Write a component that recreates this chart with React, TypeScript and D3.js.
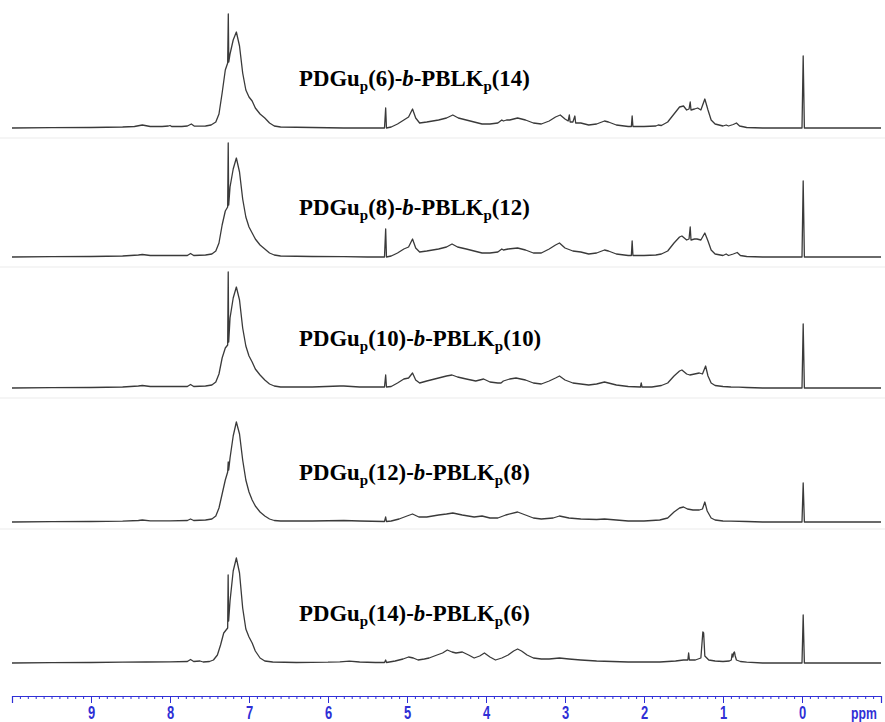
import { useEffect, useRef } from "react";
import * as d3 from "d3";

// chemical shift range shown on the axis (ppm, high field on the right)
const ppmRange = [10, -1];
const majorTicks = d3.range(9, -1, -1);
const minorTicks = d3.range(-10, 101).map((i) => i / 10);

// degree of polymerisation of each block, top trace first
const dguDP = [6, 8, 10, 12, 14];
const blkDP = [14, 12, 10, 8, 6];

// [ppm, intensity]
const spec6_14 = [
  [10, 0], [9.5, 0.3], [9, 0.5], [8.6, 1], [8.45, 1.5], [8.35, 3], [8.25, 1.5], [8.1, 1.5], [8.02, 2], [8.0, 2.5], [7.98, 1.5],
  [7.85, 1.5], [7.78, 2], [7.73, 4], [7.69, 1.8], [7.55, 2], [7.48, 3], [7.42, 6], [7.38, 14], [7.34, 35], [7.3, 58], [7.27, 65],
  [7.262, 114], [7.256, 66], [7.24, 74], [7.2, 88], [7.16, 96], [7.12, 82], [7.08, 55], [7.04, 38], [7.0, 31], [6.96, 27],
  [6.92, 20], [6.86, 14], [6.8, 10], [6.74, 5], [6.68, 2], [6.6, 1], [6.2, 0.5], [5.8, 0], [5.5, 0], [5.285, 0], [5.27, 20],
  [5.26, 0], [5.2, 1], [5.12, 4], [5.04, 8], [4.98, 11], [4.93, 19], [4.89, 10], [4.84, 5], [4.75, 6], [4.6, 8], [4.5, 10],
  [4.42, 13], [4.35, 10], [4.25, 8], [4.15, 6], [4.05, 4], [3.95, 4], [3.85, 5], [3.8, 8], [3.78, 7], [3.74, 8], [3.7, 8],
  [3.6, 10], [3.5, 8], [3.4, 5], [3.3, 4], [3.2, 7], [3.12, 11], [3.06, 13], [3.0, 9], [2.96, 7], [2.945, 13], [2.935, 6],
  [2.9, 6], [2.875, 12], [2.865, 5], [2.8, 5], [2.7, 3], [2.6, 4], [2.5, 7], [2.45, 6], [2.35, 3], [2.2, 1.5], [2.16, 1.5],
  [2.15, 12], [2.14, 1.5], [2.0, 1.5], [1.85, 2], [1.82, 3], [1.78, 2.5], [1.7, 6], [1.62, 14], [1.55, 21], [1.5, 22],
  [1.46, 18], [1.43, 19], [1.415, 26], [1.405, 18], [1.36, 19], [1.32, 20], [1.28, 18], [1.23, 29], [1.19, 18], [1.15, 8],
  [1.1, 4], [1.0, 2], [0.96, 3], [0.93, 2], [0.87, 3.5], [0.83, 5], [0.79, 2], [0.7, 0.5], [0.5, 0], [0.0, 0], [-0.015, 72],
  [-0.03, 0], [-1, 0],
];

const spec8_12 = [
  [10, 0], [9.5, 0.3], [9, 0.5], [8.6, 1], [8.4, 2], [8.35, 2.5], [8.25, 1.5], [8.0, 1.5], [7.78, 1.5], [7.74, 3.5], [7.7, 1.5],
  [7.55, 2], [7.47, 3], [7.42, 6], [7.38, 14], [7.34, 32], [7.3, 46], [7.27, 50], [7.263, 114], [7.257, 52], [7.24, 70],
  [7.2, 88], [7.16, 99], [7.12, 85], [7.08, 58], [7.04, 40], [7.0, 30], [6.96, 24], [6.92, 18], [6.86, 12], [6.8, 8], [6.74, 4],
  [6.68, 2], [6.6, 1], [6.2, 0.5], [5.8, 0.3], [5.5, 0], [5.285, 0], [5.27, 28], [5.26, 0], [5.2, 1], [5.12, 4], [5.04, 8],
  [4.98, 10], [4.93, 18], [4.89, 9], [4.84, 5], [4.75, 6], [4.6, 8], [4.5, 10], [4.43, 13], [4.36, 10], [4.25, 8], [4.15, 6],
  [4.05, 4], [3.95, 4], [3.85, 5], [3.8, 8], [3.78, 7], [3.72, 8], [3.6, 9], [3.5, 7], [3.4, 4], [3.3, 4], [3.2, 8], [3.12, 12],
  [3.07, 14], [3.0, 9], [2.9, 6], [2.8, 5], [2.7, 3], [2.6, 4], [2.5, 7], [2.45, 6], [2.35, 3], [2.2, 1.5], [2.16, 1.5],
  [2.15, 16], [2.14, 1.5], [2.0, 1.5], [1.85, 2], [1.78, 3], [1.7, 6], [1.62, 14], [1.55, 20], [1.52, 21], [1.46, 17],
  [1.43, 18], [1.415, 30], [1.405, 17], [1.36, 18], [1.33, 18], [1.28, 17], [1.23, 24], [1.19, 16], [1.15, 7], [1.1, 3],
  [1.0, 1.5], [0.96, 3], [0.93, 1.5], [0.87, 3], [0.82, 4.5], [0.78, 1.5], [0.7, 0.5], [0.5, 0], [0.0, 0], [-0.015, 76],
  [-0.03, 0], [-1, 0],
];

const spec10_10 = [
  [10, 0], [9.5, 0.3], [9, 0.5], [8.6, 1], [8.4, 2], [8.35, 2.5], [8.25, 1.5], [8.0, 1.5], [7.78, 1.5], [7.74, 3.5], [7.7, 1.5],
  [7.55, 2], [7.47, 3], [7.42, 6], [7.38, 14], [7.34, 30], [7.3, 40], [7.27, 43], [7.263, 116], [7.257, 46], [7.24, 70],
  [7.2, 90], [7.16, 101], [7.12, 88], [7.08, 60], [7.04, 42], [7.0, 32], [6.96, 26], [6.92, 19], [6.86, 13], [6.8, 8],
  [6.74, 4], [6.68, 2], [6.6, 1], [6.2, 1], [5.85, 2], [5.8, 2], [5.6, 1], [5.285, 1], [5.27, 13], [5.26, 1], [5.2, 1.5],
  [5.12, 5], [5.04, 9], [4.98, 10], [4.93, 15], [4.89, 8], [4.84, 5], [4.75, 7], [4.6, 10], [4.5, 12], [4.43, 13], [4.36, 11],
  [4.25, 9], [4.13, 7], [4.03, 9], [3.95, 6], [3.85, 5], [3.81, 5], [3.78, 7], [3.7, 9], [3.62, 10], [3.5, 8], [3.4, 5],
  [3.3, 4], [3.2, 7], [3.12, 10], [3.07, 12], [3.0, 8], [2.9, 5], [2.8, 4], [2.7, 3], [2.6, 4], [2.5, 6], [2.45, 5], [2.35, 3],
  [2.2, 1.5], [2.045, 1], [2.035, 5], [2.025, 1], [1.9, 1], [1.78, 2.5], [1.7, 5], [1.62, 12], [1.55, 17], [1.52, 18],
  [1.46, 14], [1.42, 13], [1.36, 14], [1.3, 15], [1.26, 14], [1.22, 22], [1.19, 12], [1.15, 5], [1.1, 2.5], [1.0, 1.5],
  [0.9, 1], [0.8, 0.8], [0.7, 0.5], [0.5, 0], [0.0, 0], [-0.015, 64], [-0.03, 0], [-1, 0],
];

const spec12_8 = [
  [10, 0], [9.5, 0.3], [9, 0.5], [8.6, 0.8], [8.4, 1.5], [8.35, 2], [8.25, 1.2], [8.0, 1.2], [7.78, 1.5], [7.74, 3], [7.7, 1.5],
  [7.55, 2], [7.47, 3], [7.42, 6], [7.38, 14], [7.34, 28], [7.3, 42], [7.27, 50], [7.263, 60], [7.257, 52], [7.24, 64],
  [7.2, 86], [7.16, 100], [7.12, 88], [7.08, 62], [7.04, 42], [7.0, 30], [6.96, 22], [6.92, 16], [6.86, 10], [6.8, 6],
  [6.74, 3], [6.68, 1.5], [6.6, 1], [6.2, 1], [5.8, 1.5], [5.6, 1], [5.285, 0.5], [5.27, 5], [5.26, 0.5], [5.2, 1], [5.1, 3],
  [5.0, 6], [4.93, 8], [4.85, 5], [4.75, 5], [4.6, 7], [4.5, 8], [4.42, 9], [4.3, 7], [4.15, 5], [4.05, 6], [3.95, 4],
  [3.85, 4], [3.75, 7], [3.6, 10], [3.5, 7], [3.4, 4], [3.3, 3], [3.15, 4], [3.07, 6], [2.95, 4], [2.8, 3], [2.6, 2.5],
  [2.5, 3], [2.35, 2], [2.2, 1], [2.0, 1], [1.8, 2], [1.7, 4], [1.62, 10], [1.55, 14], [1.5, 15], [1.45, 13], [1.38, 12],
  [1.3, 12], [1.26, 13], [1.23, 20], [1.2, 11], [1.15, 4], [1.1, 2], [1.0, 1], [0.9, 0.8], [0.7, 0.5], [0.5, 0], [0.0, 0],
  [-0.015, 39], [-0.03, 0], [-1, 0],
];

const spec14_6 = [
  [10, 0], [9.5, 0.3], [9, 0.5], [8.6, 0.8], [8.3, 1], [8.0, 1.2], [7.78, 1.5], [7.74, 3.5], [7.7, 1.5], [7.62, 2], [7.58, 1],
  [7.5, 1.5], [7.45, 3], [7.4, 8], [7.36, 18], [7.32, 30], [7.29, 33], [7.27, 35], [7.264, 88], [7.258, 42], [7.24, 62],
  [7.2, 92], [7.16, 105], [7.12, 90], [7.08, 55], [7.04, 34], [7.0, 26], [6.96, 20], [6.92, 12], [6.86, 5], [6.8, 2],
  [6.7, 1], [6.4, 0.5], [6.0, 0.8], [5.85, 1.2], [5.73, 1.8], [5.6, 1], [5.4, 0.5], [5.285, 0.5], [5.27, 3], [5.26, 0.5],
  [5.15, 2], [5.05, 4], [4.98, 6], [4.92, 5], [4.86, 3], [4.78, 4], [4.72, 5], [4.62, 8], [4.55, 10], [4.49, 13], [4.43, 11],
  [4.38, 10], [4.3, 11], [4.22, 8], [4.15, 5], [4.08, 7], [4.02, 10], [3.95, 6], [3.88, 3], [3.8, 5], [3.72, 8], [3.65, 12],
  [3.6, 14], [3.55, 12], [3.48, 8], [3.4, 5], [3.3, 4], [3.2, 4], [3.07, 5], [2.95, 4], [2.8, 3], [2.6, 2], [2.4, 1.5],
  [2.2, 1], [2.0, 1], [1.8, 1], [1.6, 2], [1.5, 3], [1.445, 3], [1.435, 10], [1.425, 3], [1.35, 3], [1.28, 5], [1.255, 31],
  [1.245, 30], [1.23, 7], [1.18, 3], [1.1, 2], [1.0, 1.5], [0.92, 2], [0.895, 3], [0.885, 9], [0.875, 6], [0.865, 10],
  [0.855, 11], [0.845, 7], [0.83, 3], [0.78, 1.5], [0.7, 0.8], [0.5, 0], [0.0, 0], [-0.015, 48], [-0.03, 0], [-1, 0],
];

const spectra = [spec6_14, spec8_12, spec10_10, spec12_8, spec14_6];

const W = 885;
const H = 722;
const baselines = [128, 257, 388, 522, 663];
const separators = [138, 267, 398, 529];
const axisY = 696;
const blue = "#2f2fd6";
const axisFont = "'Liberation Sans', Arial, sans-serif";

function Label({ y, a, b }: { y: number; a: number; b: number }) {
  return (
    <text
      x={299}
      y={y}
      fontFamily="'Liberation Serif', 'Times New Roman', serif"
      fontWeight="bold"
      fontSize={22.8}
      fill="#000"
    >
      PDGu
      <tspan fontSize={15} dy={5}>p</tspan>
      <tspan dy={-5}>({a})-</tspan>
      <tspan fontStyle="italic">b</tspan>
      <tspan>-PBLK</tspan>
      <tspan fontSize={15} dy={5}>p</tspan>
      <tspan dy={-5}>({b})</tspan>
    </text>
  );
}

export default function App() {
  const axisRef = useRef<SVGGElement>(null);

  const x = d3.scaleLinear().domain(ppmRange).range([12, 881]);

  useEffect(() => {
    const g = d3.select(axisRef.current);
    g.selectAll("*").remove();

    // minor ticks every 0.1 ppm
    g.append("g")
      .call(
        d3.axisBottom(x).tickValues(minorTicks).tickSize(3).tickSizeOuter(7).tickFormat(() => "")
      )
      .call((s) => s.selectAll("line").attr("stroke", blue))
      .call((s) => s.select(".domain").attr("stroke", blue).attr("stroke-width", 1.2));

    // major ticks + labels
    g.append("g")
      .call(d3.axisBottom(x).tickValues(majorTicks).tickSize(7).tickSizeOuter(0).tickPadding(3).tickFormat(d3.format("d")))
      .call((s) => s.select(".domain").remove())
      .call((s) => s.selectAll("line").attr("stroke", blue))
      .call((s) =>
        s
          .selectAll("text")
          .attr("fill", blue)
          .attr("font-family", axisFont)
          .attr("font-weight", "bold")
          .attr("font-size", 18)
          .attr("transform", "scale(0.72,1)")
      );

    g.append("text")
      .attr("transform", "translate(864,23) scale(0.72,1)")
      .attr("text-anchor", "middle")
      .attr("fill", blue)
      .attr("font-family", axisFont)
      .attr("font-weight", "bold")
      .attr("font-size", 17)
      .text("ppm");
  }, []);

  return (
    <div style={{ position: "absolute", left: 0, top: 0 }}>
      <svg width={W} height={H} style={{ display: "block", background: "#fff" }}>
        {separators.map((s, i) => (
          <line key={i} x1={0} x2={W} y1={s} y2={s} stroke="#ebebeb" strokeWidth={1} />
        ))}
        {spectra.map((spec, i) => {
          const y = d3
            .scaleLinear()
            .domain([0, 120])
            .range([baselines[i], baselines[i] - 120]);
          const line = d3
            .line<number[]>()
            .x((d) => x(d[0]))
            .y((d) => y(d[1]));
          return (
            <path
              key={i}
              d={line(spec) || ""}
              fill="none"
              stroke="#3a3a3a"
              strokeWidth={1.3}
              strokeLinejoin="round"
            />
          );
        })}
        {dguDP.map((a, i) => (
          <Label key={i} y={baselines[i] - 42} a={a} b={blkDP[i]} />
        ))}
        <g ref={axisRef} transform={`translate(0,${axisY})`} />
      </svg>
    </div>
  );
}
